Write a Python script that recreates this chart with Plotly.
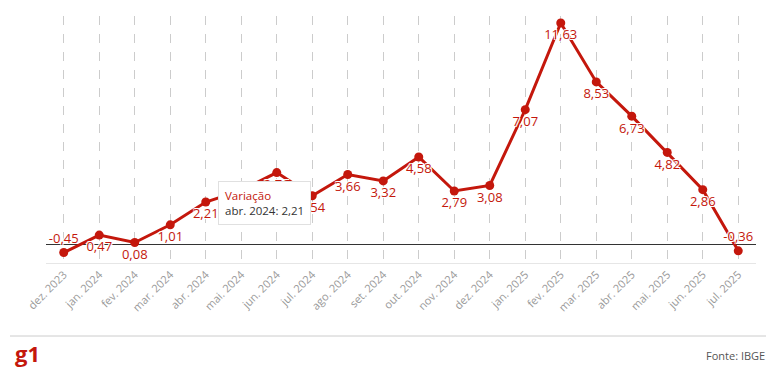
import plotly.graph_objects as go

meses = ["dez. 2023", "jan. 2024", "fev. 2024", "mar. 2024", "abr. 2024", "mai. 2024",
         "jun. 2024", "jul. 2024", "ago. 2024", "set. 2024", "out. 2024", "nov. 2024",
         "dez. 2024", "jan. 2025", "fev. 2025", "mar. 2025", "abr. 2025", "mai. 2025",
         "jun. 2025", "jul. 2025"]
variacao = [-0.45, 0.47, 0.08, 1.01, 2.21, 2.82, 3.76, 2.54, 3.66, 3.32, 4.58, 2.79,
            3.08, 7.07, 11.63, 8.53, 6.73, 4.82, 2.86, -0.36]

RED = "#c4170c"
labels = [f"{v:.2f}".replace(".", ",") for v in variacao]
positions = ["top center" if v < 0 else "bottom center" for v in variacao]

W, H = 776, 372
ml, mr, mt, mb = 46, 20, 16, 109
pw, ph = W - ml - mr, H - mt - mb

def px(x):
    return (x - ml) / pw

def py(y):
    return (H - mb - y) / ph

fig = go.Figure()
fig.add_trace(go.Scatter(
    x=list(range(len(meses))), y=variacao,
    mode="lines+markers+text",
    line=dict(color=RED, width=3),
    marker=dict(color=RED, size=9),
    text=labels, textposition=positions,
    textfont=dict(color=RED, size=13, family="Open Sans",
                  shadow="-1px -1px 0 #fff, 1px -1px 0 #fff, -1px 1px 0 #fff, 1px 1px 0 #fff"),
    hoverinfo="skip", cliponaxis=False,
))

fig.update_layout(
    width=W, height=H,
    margin=dict(l=ml, r=mr, t=mt, b=mb),
    paper_bgcolor="white", plot_bgcolor="white",
    showlegend=False,
    font=dict(family="Open Sans", color="#666"),
    xaxis=dict(
        range=[-0.5, len(meses) - 0.5],
        tickmode="array", tickvals=list(range(len(meses))), ticktext=meses,
        tickangle=-45, tickfont=dict(size=11, color="#999"),
        showgrid=True, gridcolor="#cccccc", griddash="dash", gridwidth=1,
        showline=True, linecolor="#e6e6e6", linewidth=1,
        zeroline=False, ticks="",
    ),
    yaxis=dict(
        range=[-1, 12], showticklabels=False, showgrid=False,
        zeroline=True, zerolinecolor="#333", zerolinewidth=1,
    ),
)

# tooltip
fig.add_annotation(
    x=px(218), y=py(181), xref="paper", yref="paper",
    xanchor="left", yanchor="top", align="left", showarrow=False,
    text=f"<span style='color:{RED}'>Variação</span><br>abr. 2024: 2,21",
    font=dict(size=11.5, color="#333", family="Open Sans"),
    bgcolor="white", bordercolor="#e0e0e0", borderwidth=1, borderpad=6,
)

# footer
fig.add_shape(type="line", xref="paper", yref="paper",
              x0=px(10), x1=px(766), y0=py(336), y1=py(336),
              line=dict(color="#cccccc", width=1))
fig.add_annotation(x=px(13), y=py(353), xref="paper", yref="paper",
                   xanchor="left", yanchor="middle", showarrow=False,
                   text="<b>g1</b>", font=dict(size=22, color=RED, family="Open Sans"))
fig.add_annotation(x=px(767), y=py(355), xref="paper", yref="paper",
                   xanchor="right", yanchor="middle", showarrow=False,
                   text="Fonte: IBGE", font=dict(size=11, color="#555", family="Open Sans"))

fig.write_html("out.html", config={"displayModeBar": False},
               post_script="document.body.style.margin='0';")
